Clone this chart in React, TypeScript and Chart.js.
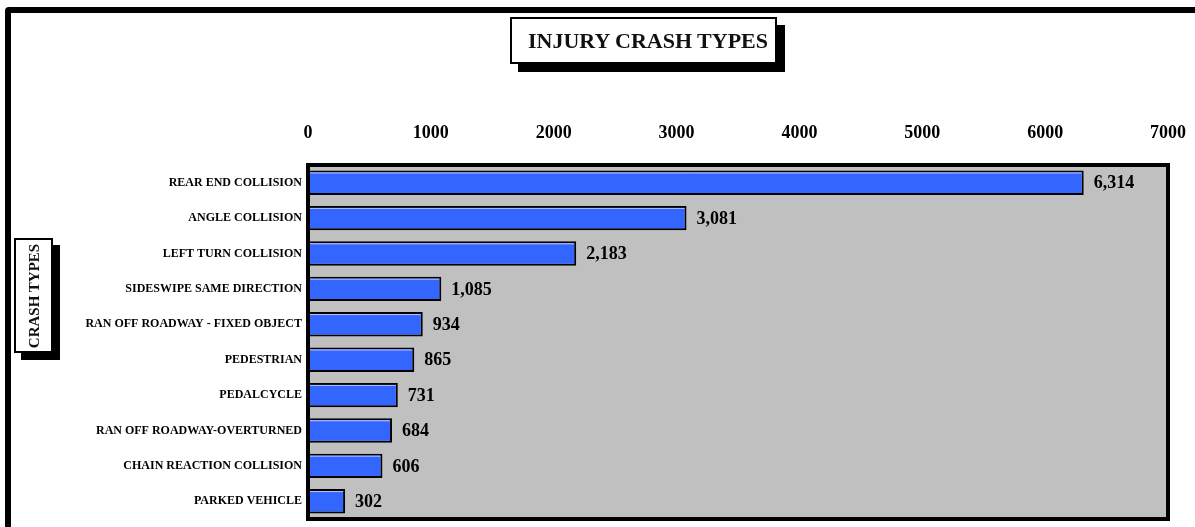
import React, { useEffect, useRef } from "react";
import { Chart, registerables } from "chart.js";

Chart.register(...registerables);

const categories: string[] = [
  "REAR END COLLISION",
  "ANGLE COLLISION",
  "LEFT TURN COLLISION",
  "SIDESWIPE SAME DIRECTION",
  "RAN OFF ROADWAY - FIXED OBJECT",
  "PEDESTRIAN",
  "PEDALCYCLE",
  "RAN OFF ROADWAY-OVERTURNED",
  "CHAIN REACTION COLLISION",
  "PARKED VEHICLE",
];
const values: number[] = [6314, 3081, 2183, 1085, 934, 865, 731, 684, 606, 302];
const axisMin = 0;
const axisMax = 7000;
const axisStep = 1000;
const chartTitle = "INJURY CRASH TYPES";
const yTitle = "CRASH TYPES";

const SERIF = "'Liberation Serif', 'Times New Roman', serif";

const plotAreaPlugin = {
  id: "plotArea",
  beforeDatasetsDraw(chart: any) {
    const { ctx, chartArea: a } = chart;
    ctx.save();
    ctx.fillStyle = "#c0c0c0";
    ctx.fillRect(a.left, a.top, a.right - a.left, a.bottom - a.top);
    ctx.restore();
  },
  afterDatasetsDraw(chart: any) {
    const { ctx, chartArea: a } = chart;
    ctx.save();
    const meta = chart.getDatasetMeta(0);
    ctx.strokeStyle = "#b8c4ff";
    ctx.lineWidth = 1;
    meta.data.forEach((bar: any) => {
      const top = bar.y - bar.height / 2;
      ctx.beginPath();
      ctx.moveTo(a.left, top + 2.5);
      ctx.lineTo(bar.x - 2, top + 2.5);
      ctx.stroke();
    });
    ctx.fillStyle = "#000";
    ctx.font = `bold 18px ${SERIF}`;
    ctx.textAlign = "left";
    ctx.textBaseline = "middle";
    meta.data.forEach((bar: any, i: number) => {
      ctx.fillText(values[i].toLocaleString("en-US"), bar.x + 10, bar.y + 1);
    });
    ctx.strokeStyle = "#000";
    ctx.lineWidth = 4;
    ctx.strokeRect(a.left, a.top, a.right - a.left, a.bottom - a.top);
    ctx.restore();
  },
};

export default function App() {
  const ref = useRef<HTMLCanvasElement | null>(null);

  useEffect(() => {
    document.body.style.margin = "0";
    if (!ref.current) return;
    const chart = new Chart(ref.current, {
      type: "bar",
      data: {
        labels: categories,
        datasets: [
          {
            data: values,
            backgroundColor: "#3366ff",
            borderColor: "#000",
            borderWidth: 2,
            borderSkipped: false,
            barPercentage: 0.69,
            categoryPercentage: 1,
          },
        ],
      },
      options: {
        indexAxis: "y",
        animation: false,
        responsive: false,
        maintainAspectRatio: false,
        layout: { padding: { left: 60, top: 100, right: 27, bottom: 8 } },
        plugins: {
          legend: { display: false },
          tooltip: { enabled: false },
          title: { display: false },
        },
        scales: {
          x: {
            position: "top",
            min: axisMin,
            max: axisMax,
            grid: { display: false, drawTicks: false },
            border: { display: false },
            ticks: {
              stepSize: axisStep,
              color: "#000",
              font: { family: SERIF, size: 18, weight: "bold" },
              padding: 21,
              maxRotation: 0,
              callback: (v: any) => String(v),
            },
            afterFit: (s: any) => {
              s.height = 65;
              s.paddingLeft = 0;
              s.paddingRight = 0;
            },
          },
          y: {
            grid: { display: false, drawTicks: false },
            border: { display: false },
            ticks: {
              autoSkip: false,
              color: "#000",
              font: { family: SERIF, size: 12, weight: "bold" },
              padding: 6,
            },
            afterFit: (s: any) => {
              s.width = 248;
              s.paddingTop = 0;
              s.paddingBottom = 0;
            },
          },
        },
      },
      plugins: [plotAreaPlugin],
    });
    return () => chart.destroy();
  }, []);

  return (
    <div
      style={{
        position: "fixed",
        left: 0,
        top: 0,
        width: 1195,
        height: 527,
        overflow: "hidden",
        background: "#fff",
        fontFamily: SERIF,
      }}
    >
      <canvas ref={ref} width={1195} height={527} style={{ position: "absolute", left: 0, top: 0 }} />
      <div
        style={{
          position: "absolute",
          left: 5,
          top: 7,
          width: 1400,
          height: 700,
          border: "6px solid #000",
          borderRadius: 4,
          pointerEvents: "none",
        }}
      />
      <div
        style={{
          position: "absolute",
          left: 510,
          top: 17,
          width: 267,
          height: 47,
          border: "2px solid #000",
          background: "#fff",
          boxShadow: "8px 8px 0 #000",
          display: "flex",
          alignItems: "center",
          justifyContent: "center",
          paddingLeft: 9,
          boxSizing: "border-box",
          fontWeight: "bold",
          fontSize: 22,
          color: "#111",
        }}
      >
        <span>{chartTitle}</span>
      </div>
      <div
        style={{
          position: "absolute",
          left: 14,
          top: 238,
          width: 35,
          height: 111,
          border: "2px solid #000",
          background: "#fff",
          boxShadow: "7px 7px 0 #000",
        }}
      >
        <div
          style={{
            position: "absolute",
            left: "50%",
            top: "50%",
            transform: "translate(-50%, -50%) rotate(-90deg)",
            whiteSpace: "nowrap",
            fontWeight: "bold",
            fontSize: 15,
            color: "#111",
          }}
        >
          {yTitle}
        </div>
      </div>
    </div>
  );
}
